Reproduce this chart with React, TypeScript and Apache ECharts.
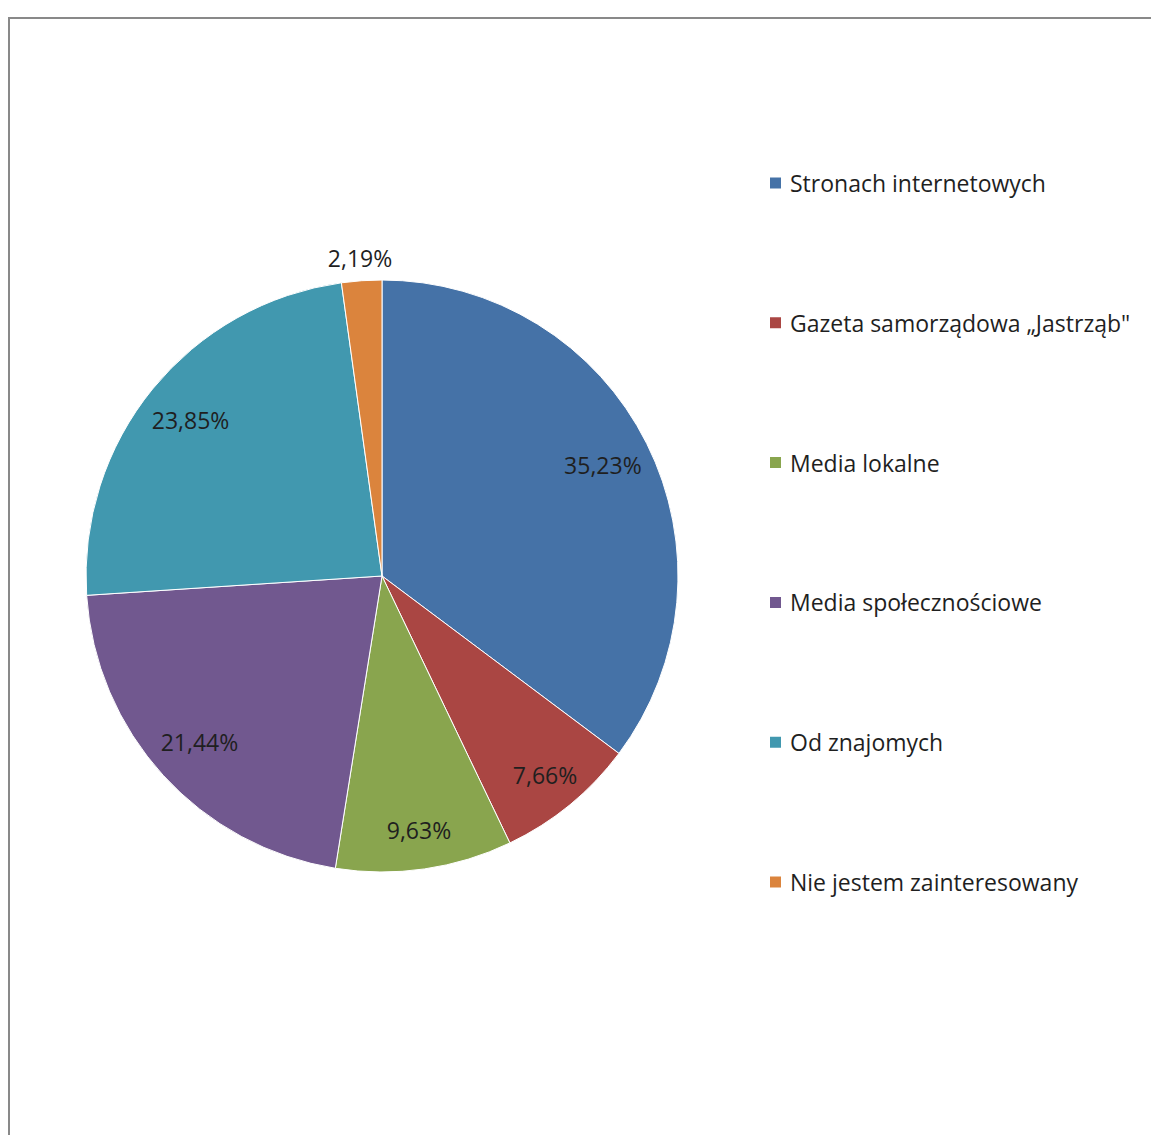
import React, { useEffect, useRef } from "react";
import * as echarts from "echarts";

const categories = [
  "Stronach internetowych",
  "Gazeta samorządowa „Jastrząb\"",
  "Media lokalne",
  "Media społecznościowe",
  "Od znajomych",
  "Nie jestem zainteresowany",
];
const values = [35.23, 7.66, 9.63, 21.44, 23.85, 2.19];
const colors = ["#4572A7", "#AA4643", "#89A54E", "#71588F", "#4198AF", "#DB843D"];
// which label ring each slice's label sits in
const labelRing = [0, 1, 1, 0, 0, 2];

const FONT = "Open Sans";

export default function App() {
  const ref = useRef<HTMLDivElement>(null);
  useEffect(() => {
    document.body.style.margin = "0";
    const chart = echarts.init(ref.current!, null, { renderer: "svg" });
    const fmt = (v: number) => v.toFixed(2).replace(".", ",") + "%";
    const center = [382, 576];
    const R = 296;
    const rings: [number, number][] = [
      [192, R],
      [212, R],
      [R, 336],
    ];
    const labelSeries = rings.map((rad, ri) => ({
      type: "pie",
      center,
      radius: rad,
      startAngle: 90,
      clockwise: true,
      silent: true,
      legendHoverLink: false,
      z: 5,
      itemStyle: { color: "transparent", borderWidth: 0 },
      labelLine: { show: false },
      data: values.map((v, i) => ({
        name: categories[i] + "#" + ri,
        value: v,
        label: {
          show: labelRing[i] === ri,
          position: "inside",
          formatter: () => fmt(v),
          color: "#1f1f1f",
          fontFamily: FONT,
          fontSize: 23,
        },
      })),
    }));
    chart.setOption({
      animation: false,
      color: colors,
      graphic: [
        {
          type: "rect",
          shape: { x: 9, y: 18, width: 1200, height: 1200 },
          style: { fill: "none", stroke: "#898989", lineWidth: 2 },
          z: -1,
        },
      ],
      legend: {
        orient: "vertical",
        left: 763,
        top: 166,
        itemWidth: 13,
        itemHeight: 13,
        itemGap: 115.8,
        icon: "rect",
        data: categories,
        selectedMode: false,
        textStyle: {
          fontFamily: FONT,
          fontSize: 23,
          lineHeight: 24,
          color: "#1f1f1f",
          padding: [0, 0, 0, 3],
        },
      },
      series: [
        {
          type: "pie",
          center,
          radius: R,
          startAngle: 90,
          clockwise: true,
          silent: true,
          label: { show: false },
          labelLine: { show: false },
          itemStyle: { borderColor: "#ffffff", borderWidth: 1 },
          data: values.map((v, i) => ({ name: categories[i], value: v })),
        },
        ...labelSeries,
      ],
    });
    return () => chart.dispose();
  }, []);
  return <div ref={ref} style={{ width: 1151, height: 1135 }} />;
}
